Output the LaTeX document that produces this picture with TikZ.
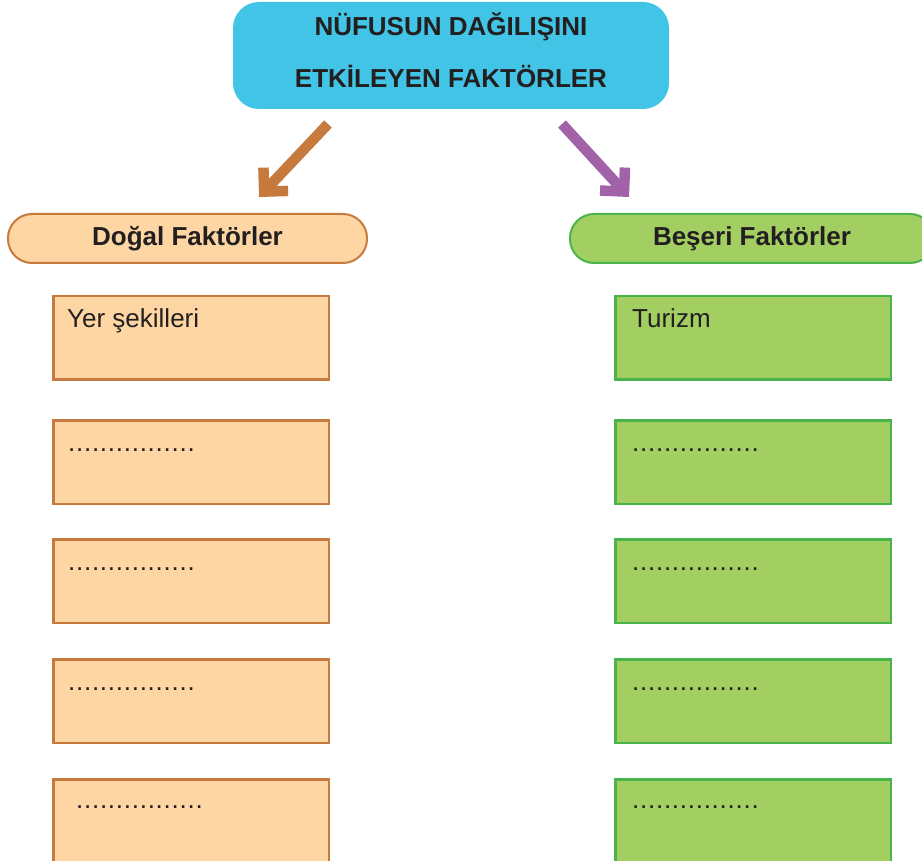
\documentclass[tikz,border=0pt]{standalone}
\usepackage{fontspec}
\setmainfont{Liberation Sans}
\usetikzlibrary{arrows.meta}
\definecolor{topcyan}{HTML}{41C4E5}
\definecolor{orfill}{HTML}{FDD6A3}
\definecolor{ordraw}{HTML}{C67A3D}
\definecolor{grfill}{HTML}{A3CF62}
\definecolor{grdraw}{HTML}{4BB34B}
\definecolor{purp}{HTML}{A262A8}
\definecolor{txt}{HTML}{231F20}
\newfontfamily\dotfont[LetterSpace=2.8]{Liberation Sans}
\tikzset{
  titlebox/.style={fill=topcyan, rounded corners=26pt, minimum width=436pt, minimum height=107pt, inner sep=0pt},
  headbox/.style={rounded corners=24pt, line width=2pt, minimum height=49pt, inner sep=0pt, text=txt, font=\fontsize{26}{30}\selectfont\bfseries},
  orhead/.style={headbox, fill=orfill, draw=ordraw, minimum width=359pt},
  grhead/.style={headbox, fill=grfill, draw=grdraw, minimum width=364pt},
  itembox/.style={line width=2.5pt, minimum width=275.5pt, minimum height=83.5pt, inner sep=0pt},
  oritem/.style={itembox, fill=orfill, draw=ordraw},
  gritem/.style={itembox, fill=grfill, draw=grdraw},
  itemtext/.style={anchor=base west, inner sep=0pt, text=txt, font=\fontsize{26}{30}\selectfont},
  dottext/.style={itemtext, font=\dotfont\fontsize{26}{30}\selectfont},
  titletext/.style={anchor=base, inner sep=0pt, text=txt, font=\fontsize{26}{30}\selectfont\bfseries},
  bigarrow/.style={line width=10.5pt, -{Straight Barb[angle=90:24pt]}}
}
\begin{document}
\begin{tikzpicture}[x=1pt,y=-1pt]
\useasboundingbox (0,0) rectangle (922,861);
\node[titlebox] (title) at (451,55.5) {};
\node[titletext] (t1) at (451,36) {NÜFUSUN DAĞILIŞINI};
\node[titletext] (t2) at (451,87.5) {ETKİLEYEN FAKTÖRLER};

\node[orhead] (doga) at (187.5,238.5) {Doğal Faktörler};
\node[grhead] (beseri) at (752,238.5) {Beşeri Faktörler};

\coordinate (ao1) at (328,124);
\coordinate (ao2) at (259,197);
\coordinate (ap1) at (562,124);
\coordinate (ap2) at (629,197);
\draw[bigarrow, draw=ordraw] (ao1) -- (ao2);
\draw[bigarrow, draw=purp] (ap1) -- (ap2);

\foreach \i/\y in {1/295,2/419,3/538,4/658,5/778}{
  \node[oritem] (l\i) at (191,\y+43) {};
  \node[gritem] (r\i) at (753,\y+43) {};
}
\node[itemtext] (lt1) at (67,327) {Yer şekilleri};
\node[dottext] (lt2) at (68,451) {................};
\node[dottext] (lt3) at (68,570) {................};
\node[dottext] (lt4) at (68,690) {................};
\node[dottext] (lt5) at (76,808) {................};
\node[itemtext] (rt1) at (632,327) {Turizm};
\node[dottext] (rt2) at (632,451) {................};
\node[dottext] (rt3) at (632,570) {................};
\node[dottext] (rt4) at (632,690) {................};
\node[dottext] (rt5) at (632,808) {................};
\end{tikzpicture}
\end{document}
